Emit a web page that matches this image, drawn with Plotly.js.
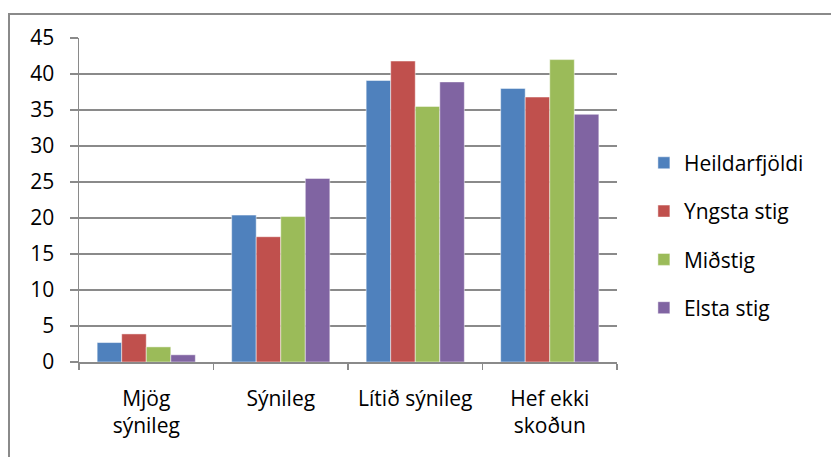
<!DOCTYPE html>
<html>
<head>
<meta charset="utf-8">
<script src="https://cdn.plot.ly/plotly-3.0.1.min.js"></script>
<style>
html,body{margin:0;padding:0;background:#fff;}
#chart{width:831px;height:457px;position:relative;}
#frame{position:absolute;left:8px;top:13px;width:900px;height:500px;border-left:2px solid #8a8a8a;border-top:2px solid #8a8a8a;pointer-events:none;}
</style>
</head>
<body>
<div id="chart"></div>
<div id="frame"></div>
<script>
const categories = ["Mjög<br>sýnileg", "Sýnileg", "Lítið sýnileg", "Hef ekki<br>skoðun"];
const seriesNames = ["Heildarfjöldi", "Yngsta stig", "Miðstig", "Elsta stig"];
const heildarfjoldi = [2.7, 20.4, 39.1, 38.0];
const yngstaStig = [3.9, 17.4, 41.8, 36.8];
const midstig = [2.1, 20.2, 35.5, 42.0];
const elstaStig = [1.0, 25.5, 38.9, 34.4];
const colors = ["#4F81BD", "#C0504D", "#9BBB59", "#8064A2"];
const values = [heildarfjoldi, yngstaStig, midstig, elstaStig];

const font = "Open Sans, sans-serif";
const traces = values.map((v, i) => ({
  type: "bar",
  name: seriesNames[i],
  x: categories,
  y: v,
  legendgroup: "g" + i,
  marker: {color: colors[i], line: {color: "rgba(255,255,255,0.6)", width: 0.8}},
  hoverinfo: "x+y+name"
}));

const layout = {
  width: 831, height: 457,
  margin: {l: 79, r: 214, t: 38, b: 95},
  paper_bgcolor: "#fff", plot_bgcolor: "#fff",
  font: {family: font, size: 21, color: "#000"},
  barmode: "group",
  bargap: 0.27,
  bargroupgap: 0,
  showlegend: true,
  legend: {
    x: 1.05, xanchor: "left", y: 0.39, yanchor: "middle",
    font: {family: font, size: 21, color: "#000"},
    tracegroupgap: 18,
    bgcolor: "rgba(0,0,0,0)"
  },
  xaxis: {
    showgrid: false,
    showline: true, linecolor: "#8a8a8a", linewidth: 1.5,
    ticks: "outside", tickson: "boundaries", ticklen: 6, tickcolor: "#8a8a8a", tickwidth: 1.5,
    ticklabelstandoff: 17,
    tickfont: {family: font, size: 21, color: "#000"},
    fixedrange: true
  },
  yaxis: {
    range: [0, 45], dtick: 5, tick0: 0,
    showgrid: true, gridcolor: "#8a8a8a", gridwidth: 1.5,
    zeroline: false,
    showline: true, linecolor: "#8a8a8a", linewidth: 1.5,
    ticks: "outside", ticklen: 8, tickcolor: "#8a8a8a", tickwidth: 1.5,
    ticklabelstandoff: 11,
    tickfont: {family: font, size: 21, color: "#000"},
    fixedrange: true
  }
};

Plotly.newPlot("chart", traces, layout, {displayModeBar: false, staticPlot: true});
</script>
</body>
</html>
